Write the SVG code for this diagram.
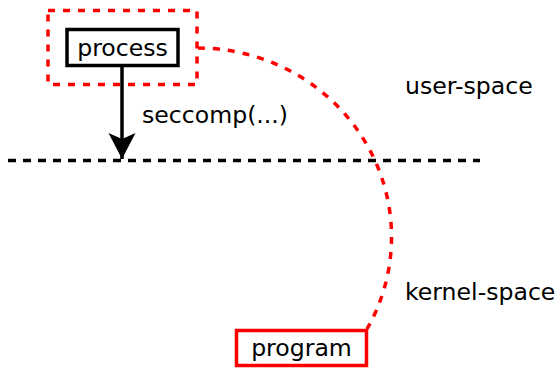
<svg xmlns="http://www.w3.org/2000/svg" width="560" height="368" viewBox="0 0 560 368">
<style>
text{font-family:"DejaVu Sans",sans-serif;font-size:23.6px;fill:#000}
.box{fill:#fff;stroke-width:3.5}
</style>
<defs>
<marker id="ah" markerUnits="userSpaceOnUse" markerWidth="30" markerHeight="30" refX="26" refY="13.5" orient="auto" viewBox="0 0 30 30">
<path d="M26,13.5 L0,0 L6,13.5 L0,27 Z" fill="#000"/>
</marker>
</defs>
<rect width="560" height="368" fill="#fff"/>
<g id="connectors" fill="none">
<line x1="8" y1="160.5" x2="480" y2="160.5" stroke="#000" stroke-width="3.5" stroke-dasharray="8,7"/>
<path d="M198,48 A194,189 0 0 1 367,329" stroke="#f00" stroke-width="3.5" stroke-dasharray="7,8"/>
<line x1="122" y1="67" x2="122" y2="159" stroke="#000" stroke-width="3.5" marker-end="url(#ah)"/>
<text x="142" y="123">seccomp(...)</text>
</g>
<g id="group">
<rect x="48" y="10.5" width="149" height="74" fill="none" stroke="#f00" stroke-width="3.5" stroke-dasharray="7,8"/>
</g>
<g id="process">
<rect class="box" x="67" y="29.5" width="111" height="36" stroke="#000"/>
<text x="122.5" y="56" text-anchor="middle">process</text>
</g>
<g id="program">
<rect class="box" x="236.5" y="330.5" width="130" height="35" stroke="#f00"/>
<text x="301.5" y="356" text-anchor="middle">program</text>
</g>
<g id="labels">
<text x="405" y="94">user-space</text>
<text x="405" y="300">kernel-space</text>
</g>
</svg>
